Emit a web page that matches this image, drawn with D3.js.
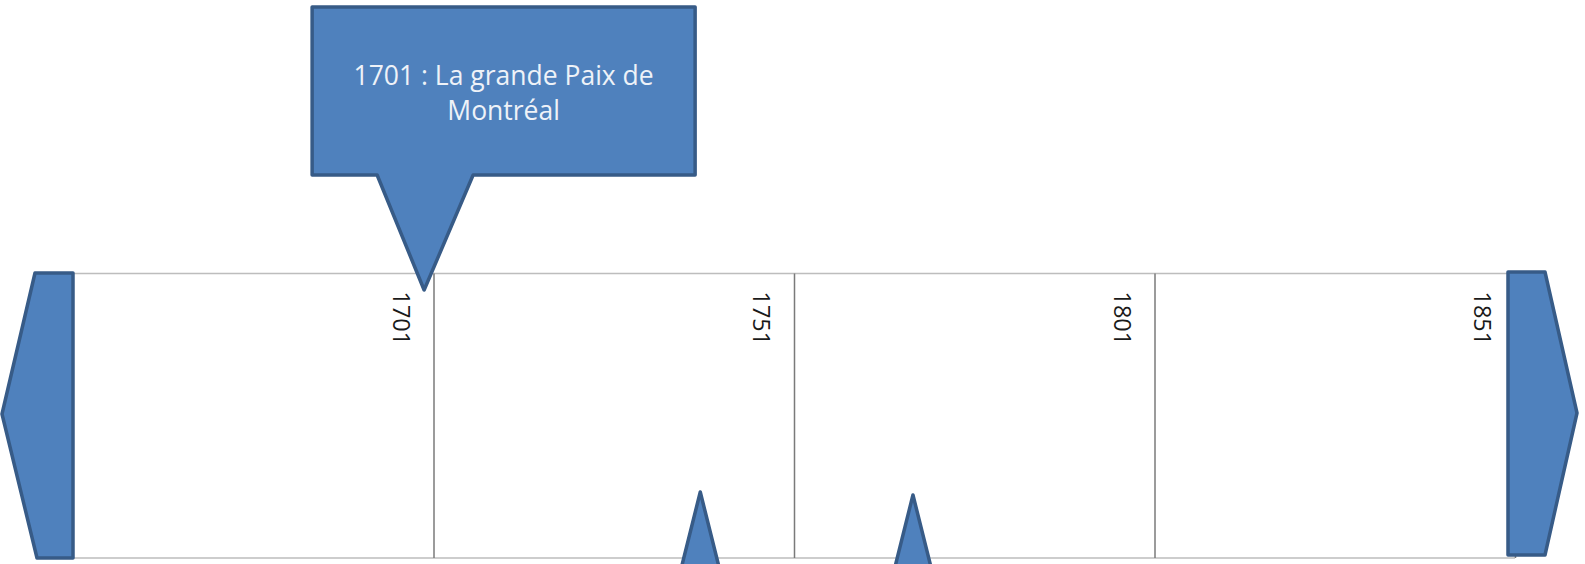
<!DOCTYPE html>
<html>
<head>
<meta charset="utf-8">
<script src="https://cdn.jsdelivr.net/npm/d3@7/dist/d3.min.js"></script>
<style>
  html, body { margin: 0; padding: 0; background: #fff; }
  svg { display: block; }
</style>
</head>
<body>
<svg id="chart" width="1585" height="564"></svg>
<script>
// ---- data ----
const domainYears = [1651, 1851];
const tickYears = [1701, 1751, 1801, 1851];
const tickLabels = ["1701", "1751", "1801", "1851"];
const topEventYears = [1699.7];
const topEventLabels = [["1701 : La grande Paix de", "Montréal"]];
const bottomEventYears = [1738, 1767.5];

// ---- layout ----
const boxTop = 273.5, boxBottom = 558;
const fill = "#4F81BD", stroke = "#375B87";

const svg = d3.select("#chart");
const x = d3.scaleLinear().domain(domainYears).range([73, 1515]);

// timeline box
const g = svg.append("g");
g.append("line")
  .attr("x1", x(domainYears[0])).attr("x2", x(domainYears[1]))
  .attr("y1", boxTop).attr("y2", boxTop)
  .attr("stroke", "#bdbdbd").attr("stroke-width", 1.6);
g.append("line")
  .attr("x1", x(domainYears[0])).attr("x2", x(domainYears[1]))
  .attr("y1", boxBottom).attr("y2", boxBottom)
  .attr("stroke", "#bdbdbd").attr("stroke-width", 1.6);

// vertical tick lines via axis
const axis = d3.axisTop(x).tickValues(tickYears).tickSize(-(boxBottom - boxTop)).tickFormat("");
const ax = svg.append("g").attr("transform", `translate(0,${boxTop})`).call(axis);
ax.select(".domain").remove();
ax.selectAll(".tick line").attr("stroke", "#7a7a7a").attr("stroke-width", 1.5);

// rotated tick labels
svg.append("g").selectAll("text")
  .data(tickYears)
  .join("text")
  .attr("transform", d => `translate(${x(d) - 41},${boxTop + 18}) rotate(90)`)
  .attr("font-family", "'Open Sans', sans-serif")
  .attr("font-size", 23.5)
  .attr("fill", "#1a1a1a")
  .text((d, i) => tickLabels[i]);

// left and right arrows
const x0 = x(domainYears[0]), x1 = x(domainYears[1]);
const midY = 414;
svg.append("path")
  .attr("d", `M${x0 - 38},${boxTop - 0.5} L${x0},${boxTop - 0.5} L${x0},${boxBottom} L${x0 - 36},${boxBottom} L${x0 - 71},${midY} Z`)
  .attr("fill", fill).attr("stroke", stroke).attr("stroke-width", 3.5).attr("stroke-linejoin", "round");
svg.append("path")
  .attr("d", `M${x1 - 7},${boxTop - 1.5} L${x1 + 30},${boxTop - 1.5} L${x1 + 62},${midY - 1} L${x1 + 30},${boxBottom - 3} L${x1 - 7},${boxBottom - 3} Z`)
  .attr("fill", fill).attr("stroke", stroke).attr("stroke-width", 3.5).attr("stroke-linejoin", "round");

// top callouts
const callTop = 7, callBottom = 175, tipY = 290;
const topG = svg.append("g").selectAll("g")
  .data(topEventYears)
  .join("g");
topG.append("path")
  .attr("d", d => {
    const t = x(d);
    const l = t - 112, r = t + 271;
    return `M${l},${callTop} H${r} V${callBottom} H${t + 49} L${t},${tipY} L${t - 47},${callBottom} H${l} Z`;
  })
  .attr("fill", fill).attr("stroke", stroke).attr("stroke-width", 3.5).attr("stroke-linejoin", "round");
topG.each(function(d, i) {
  const t = x(d);
  const cx = t + 79.5;
  const txt = d3.select(this).append("text")
    .attr("text-anchor", "middle")
    .attr("font-family", "'Open Sans', sans-serif")
    .attr("font-size", 26.5)
    .attr("fill", "#eef2f8");
  topEventLabels[i].forEach((line, j) => {
    txt.append("tspan").attr("x", cx).attr("y", 85 + j * 35).text(line);
  });
});

// bottom callout pointers (boxes are below the visible area)
svg.append("g").selectAll("path")
  .data(bottomEventYears)
  .join("path")
  .attr("d", (d, i) => {
    const t = x(d);
    const ty = 492 + i * 3;
    const depth = 700 - ty;
    const hw = depth * 0.25;
    return `M${t},${ty} L${t + hw},${700} L${t - hw},${700} Z`;
  })
  .attr("fill", fill).attr("stroke", stroke).attr("stroke-width", 3.5).attr("stroke-linejoin", "round");
</script>
</body>
</html>
